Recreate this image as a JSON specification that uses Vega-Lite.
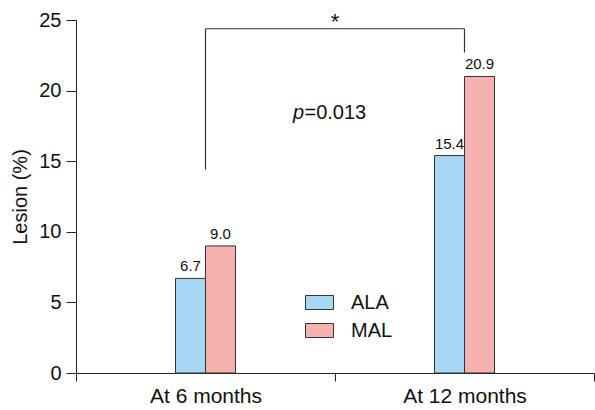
{
  "$schema": "https://vega.github.io/schema/vega-lite/v6.json",
  "width": 518,
  "height": 353,
  "autosize": "none",
  "padding": {"left": 76, "top": 20, "right": 1, "bottom": 37},
  "background": "white",
  "config": {
    "view": {"stroke": null},
    "font": "Liberation Sans",
    "axis": {"grid": false, "domainColor": "#222", "tickColor": "#222", "labelColor": "#111", "titleColor": "#111", "labelFont": "Liberation Sans", "titleFont": "Liberation Sans"}
  },
  "datasets": {
    "bars": [
      {"period": "At 6 months", "drug": "ALA", "value": 6.7, "label": "6.7"},
      {"period": "At 6 months", "drug": "MAL", "value": 9.0, "label": "9.0"},
      {"period": "At 12 months", "drug": "ALA", "value": 15.4, "label": "15.4"},
      {"period": "At 12 months", "drug": "MAL", "value": 21.0, "label": "20.9"}
    ],
    "bracket": [
      {"period": "At 6 months", "period2": "At 6 months", "y": 14.4, "y2": 24.38},
      {"period": "At 6 months", "period2": "At 12 months", "y": 24.38, "y2": 24.38},
      {"period": "At 12 months", "period2": "At 12 months", "y": 22.7, "y2": 24.38}
    ],
    "notes": [
      {"period": "At 6 months", "star": "*", "ys": 24.38, "p": "p", "rest": "=0.013", "yp": 18}
    ]
  },
  "encoding": {
    "x": {
      "field": "period",
      "type": "nominal",
      "sort": ["At 6 months", "At 12 months"],
      "scale": {"paddingInner": 0, "paddingOuter": 0},
      "axis": {"title": null, "labelAngle": 0, "labelFontSize": 21, "labelPadding": 4, "tickSize": 8, "tickBand": "extent", "domainWidth": 1, "tickWidth": 1}
    }
  },
  "layer": [
    {
      "data": {"name": "bars"},
      "mark": {"type": "bar", "stroke": "#333", "strokeWidth": 1},
      "encoding": {
        "xOffset": {"field": "drug", "type": "nominal", "sort": ["ALA", "MAL"], "scale": {"paddingInner": 0, "paddingOuter": 0, "range": [99.5, 159.5]}},
        "y": {
          "field": "value",
          "type": "quantitative",
          "scale": {"domain": [0, 25], "nice": false},
          "axis": {"title": "Lesion (%)", "titleFontSize": 20, "titleFontWeight": "normal", "titlePadding": 8, "labelFontSize": 20, "labelPadding": 5, "tickSize": 10, "values": [0, 5, 10, 15, 20, 25]}
        },
        "fill": {
          "field": "drug",
          "type": "nominal",
          "scale": {"domain": ["ALA", "MAL"], "range": ["#a6d8f3", "#f4b1ad"]},
          "legend": {
            "title": null,
            "orient": "none",
            "legendX": 229,
            "legendY": 268,
            "padding": 0,
            "symbolType": "M-1,-0.5H1V0.5H-1Z",
            "symbolSize": 784,
            "symbolStrokeColor": "#333",
            "symbolStrokeWidth": 1,
            "labelFontSize": 20,
            "labelColor": "#111",
            "labelOffset": 17,
            "rowPadding": 3
          }
        }
      }
    },
    {
      "data": {"name": "bars"},
      "mark": {"type": "text", "fontSize": 15, "baseline": "alphabetic", "dy": -7, "color": "#111"},
      "encoding": {
        "xOffset": {"field": "drug", "type": "nominal", "sort": ["ALA", "MAL"], "scale": {"paddingInner": 0, "paddingOuter": 0, "range": [99.5, 159.5]}},
        "y": {"field": "value", "type": "quantitative"},
        "text": {"field": "label"}
      }
    },
    {
      "data": {"name": "bracket"},
      "mark": {"type": "rule", "color": "#333", "strokeWidth": 1.2},
      "encoding": {
        "x2": {"field": "period2"},
        "y": {"field": "y", "type": "quantitative"},
        "y2": {"field": "y2"}
      }
    },
    {
      "data": {"name": "notes"},
      "mark": {"type": "text", "fontSize": 22, "baseline": "alphabetic", "align": "center", "dy": 0, "color": "#111"},
      "encoding": {
        "x": {"field": "period", "type": "nominal", "bandPosition": 1},
        "y": {"field": "ys", "type": "quantitative"},
        "text": {"field": "star"}
      }
    },
    {
      "data": {"name": "notes"},
      "mark": {"type": "text", "fontSize": 20, "fontStyle": "italic", "baseline": "alphabetic", "align": "left", "dx": -42, "color": "#111"},
      "encoding": {
        "x": {"field": "period", "type": "nominal", "bandPosition": 1},
        "y": {"field": "yp", "type": "quantitative"},
        "text": {"field": "p"}
      }
    },
    {
      "data": {"name": "notes"},
      "mark": {"type": "text", "fontSize": 20, "baseline": "alphabetic", "align": "left", "dx": -30.5, "color": "#111"},
      "encoding": {
        "x": {"field": "period", "type": "nominal", "bandPosition": 1},
        "y": {"field": "yp", "type": "quantitative"},
        "text": {"field": "rest"}
      }
    }
  ]
}
